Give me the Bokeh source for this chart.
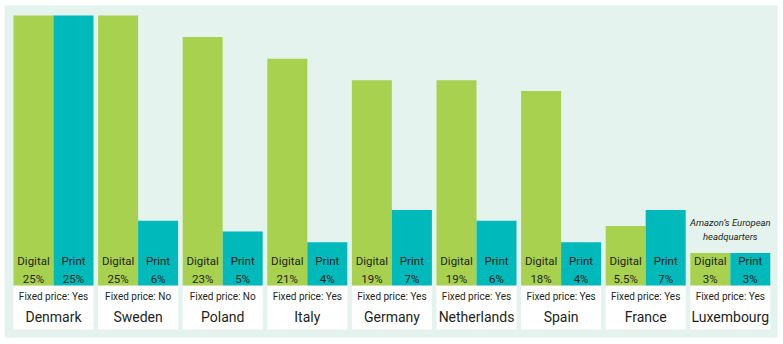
from bokeh.plotting import figure
from bokeh.models import ColumnDataSource
from bokeh.core.properties import value
from bokeh.embed import file_html
from bokeh.resources import INLINE

# ---- data ----
countries = ["Denmark", "Sweden", "Poland", "Italy", "Germany",
             "Netherlands", "Spain", "France", "Luxembourg"]
digital = [25, 25, 23, 21, 19, 19, 18, 5.5, 3]
print_vals = [25, 6, 5, 4, 7, 6, 4, 7, 3]
digital_labels = ["25%", "25%", "23%", "21%", "19%", "19%", "18%", "5.5%", "3%"]
print_labels = ["25%", "6%", "5%", "4%", "7%", "6%", "4%", "7%", "3%"]
fixed_price = ["Yes", "No", "No", "Yes", "Yes", "Yes", "Yes", "Yes", "Yes"]
note_country = "Luxembourg"
note_lines = ["Amazon\u2019s European", "headquarters"]

# ---- layout helpers (pixels -> data units) ----
W, H = 783, 344
PITCH = 84.6      # px per group
X0 = 53.0         # px centre of first group
PX = 10.8         # px per percentage point
BASE = 285.0      # px of the zero line

def uy(px_above):
    return px_above / PX

def ux(px):
    return px / PITCH

BW = ux(40)       # bar width

GREEN = "#a9d150"
TEAL = "#00b9bb"
MINT = "#e4f3ed"
INK = "#231f20"
FONT = value("Roboto")

p = figure(width=W, height=H,
           x_range=(-ux(X0), ux(W - X0)),
           y_range=(-uy(H - BASE), uy(BASE)),
           output_backend="svg", toolbar_location=None, min_border=0,
           x_axis_location=None, y_axis_location=None)
p.grid.visible = False
p.outline_line_color = None
p.background_fill_color = "white"
p.border_fill_color = "white"

# background panel
p.quad(left=[ux(4 - X0)], right=[ux(777 - X0)], top=[uy(BASE - 5)],
       bottom=[-uy(337 - BASE)], fill_color=MINT, line_color=None)

idx = list(range(len(countries)))
src = ColumnDataSource(dict(
    i=idx,
    xd=[i - BW / 2 for i in idx],
    xp=[i + BW / 2 for i in idx],
    digital=digital, print_vals=print_vals,
    dl=["Digital\n" + s for s in digital_labels],
    pl=["Print\n" + s for s in print_labels],
    fixed=["Fixed price: " + f for f in fixed_price],
    country=countries,
    left=[i - BW for i in idx], right=[i + BW for i in idx],
))

# white label boxes
p.quad(left="left", right="right", top=0, bottom=-uy(329 - BASE),
       source=src, fill_color="white", line_color=None)

# bars
p.vbar(x="xd", top="digital", bottom=0, width=BW, source=src,
       fill_color=GREEN, line_color=None)
p.vbar(x="xp", top="print_vals", bottom=0, width=BW, source=src,
       fill_color=TEAL, line_color=None)

# in-bar labels
for col, xcol in (("dl", "xd"), ("pl", "xp")):
    p.text(x=xcol, y=uy(15.5), text=col, source=src, text_font=FONT,
           text_font_size="11.5px", text_color=INK, text_align="center",
           text_baseline="middle", text_line_height=1.3)

# fixed price + country
p.text(x="i", y=-uy(296 - BASE), text="fixed", source=src, text_font=FONT,
       text_font_size="10px", text_color=INK, text_align="center",
       text_baseline="middle")
p.text(x="i", y=-uy(316 - BASE), text="country", source=src, text_font=FONT,
       text_font_size="14px", text_color=INK, text_align="center",
       text_baseline="middle")

# note above Luxembourg
k = countries.index(note_country)
p.text(x=[k, k], y=[uy(BASE - 222), uy(BASE - 236)], text=note_lines,
       text_font=FONT, text_font_size="9.5px", text_font_style="italic",
       text_color=INK, text_align="center", text_baseline="middle")

open("out.html", "w").write(file_html(p, INLINE))
